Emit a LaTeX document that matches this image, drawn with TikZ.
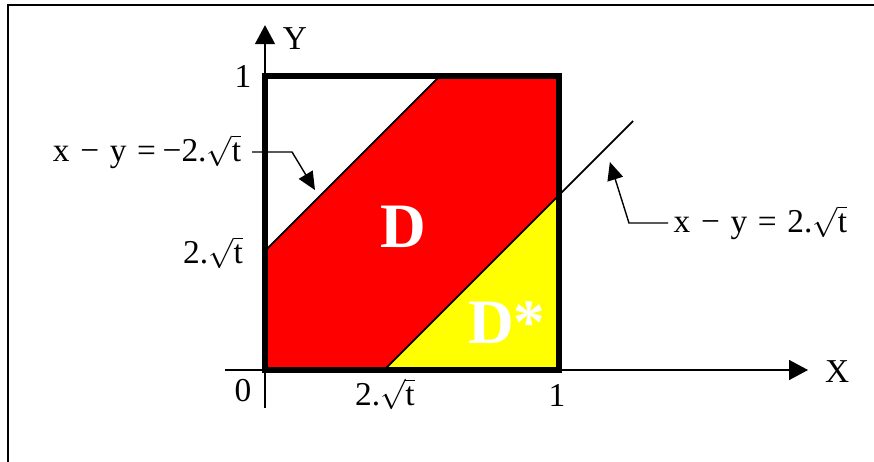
\documentclass[tikz,border=0pt]{standalone}
\usepackage{fontspec}
\setmainfont{Liberation Serif}
\usetikzlibrary{calc, arrows.meta}
\definecolor{regred}{HTML}{FF0000}
\definecolor{regyellow}{HTML}{FFFF00}
\newcommand{\opsp}{\hspace{0.32em}}

\begin{document}
\begin{tikzpicture}[
    x=5.88cm, y=5.88cm,
    axis/.style={line width=0.8pt, -{Triangle[length=3.8mm, width=4mm]}},
    callout/.style={line width=0.8pt, -{Triangle[length=3.6mm, width=3.2mm]}},
    axlbl/.style={font=\fontsize{19}{22}\selectfont, inner sep=0pt},
    eqlbl/.style={font=\fontsize{19}{22}\selectfont, inner sep=3pt},
    reglbl/.style={font=\fontsize{36}{40}\selectfont\bfseries, text=white, inner sep=0pt}
]

% 1. Parameters (2.sqrt(t) as a fraction of the unit square)
\pgfmathsetmacro{\aVal}{0.405}
\pgfmathsetmacro{\bVal}{1-\aVal}

\useasboundingbox (-0.9014,-0.3129) rectangle (2.0714,1.2585);

\coordinate (O) at (0,0);
\coordinate (Xa) at (\aVal,0);
\coordinate (X1) at (1,0);
\coordinate (Ya) at (0,\aVal);
\coordinate (Y1) at (0,1);
\coordinate (Rb) at (1,\bVal);
\coordinate (Tb) at (\bVal,1);
\coordinate (C) at (1,1);
\coordinate (Ext) at (1.252,0.847);

% 2. Outer frame
\draw[line width=0.8pt] (-0.874,-0.35) -- (-0.874,1.2415) -- (2.1,1.2415);

% 3. Regions D and D*
\fill[regred] (O) -- (Xa) -- (Rb) -- (C) -- (Tb) -- (Ya) -- cycle;
\fill[regyellow] (Xa) -- (X1) -- (Rb) -- cycle;

% 4. Boundary lines x - y = -2.sqrt(t) and x - y = 2.sqrt(t)
\draw[line width=1pt] (Ya) -- (Tb);
\draw[line width=1pt] (Xa) -- (Ext);

% 5. Axes
\coordinate (Xstart) at (-0.136,0);
\coordinate (Xend) at (1.847,0);
\coordinate (Ystart) at (0,-0.129);
\coordinate (Yend) at (0,1.173);
\draw[axis] (Xstart) -- (Xend);
\draw[axis] (Ystart) -- (Yend);
\node[axlbl] (xlab) at (1.946,-0.007) {X};
\node[axlbl] (ylab) at (0.102,1.129) {Y};

% 6. Unit square
\draw[line width=3pt] (O) rectangle (C);

% 7. Tick labels
\node[axlbl] (zero) at (-0.075,-0.071) {0};
\node[axlbl] (onex) at (0.993,-0.085) {1};
\node[axlbl] (oney) at (-0.075,0.997) {1};
\node[axlbl] (ax) at (0.408,-0.082) {2.$\sqrt{\mbox{t}}$};
\node[axlbl] (ay) at (-0.177,0.40) {2.$\sqrt{\mbox{t}}$};

% 8. Region labels
\node[reglbl] (D) at (0.469,0.486) {D};
\node[reglbl] (Dstar) at (0.823,0.160) {D*};

% 9. Callouts
\node[eqlbl, anchor=east, inner xsep=6pt] (lblL) at (-0.044,0.7415)
    {x\opsp−\opsp y\opsp=\hspace{0.2em}−2.$\sqrt{\mbox{t}}$};
\coordinate (kneeL) at (0.092,0.7415);
\coordinate (tipL) at (0.170,0.612);
\draw[callout] (lblL.east) -- (kneeL) -- (tipL);

\node[eqlbl, anchor=west] (lblR) at (1.371,0.5)
    {x\opsp−\opsp y\opsp=\opsp 2.$\sqrt{\mbox{t}}$};
\coordinate (kneeR) at (1.238,0.5);
\coordinate (tipR) at (1.173,0.7075);
\draw[callout] (lblR.west) -- (kneeR) -- (tipR);

\end{tikzpicture}
\end{document}
